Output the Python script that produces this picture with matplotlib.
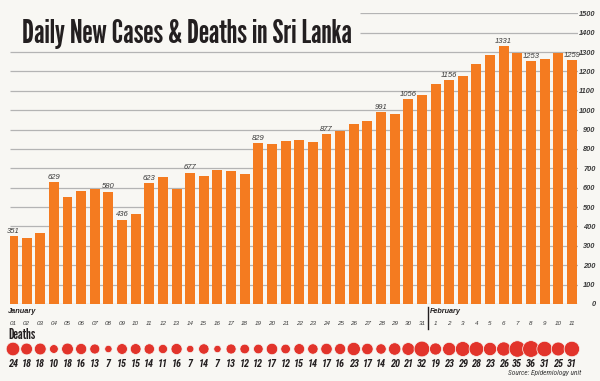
import matplotlib
matplotlib.use('Agg')
import matplotlib.pyplot as plt

plt.rcParams['font.family'] = ['Liberation Sans', 'DejaVu Sans']

# 数据
jan_days = ['%02d' % d for d in range(1, 32)]
feb_days = [str(d) for d in range(1, 12)]
day_labels = jan_days + feb_days

cases = [351, 339, 366, 629, 552, 583, 592, 580, 436, 463,
         623, 654, 595, 677, 662, 690, 688, 672, 829, 826,
         839, 845, 837, 877, 893, 927, 943, 991, 979, 1056,
         1078,
         1133, 1156, 1178, 1240, 1285, 1331, 1297, 1253, 1262, 1297, 1259]

deaths = [24, 18, 18, 10, 18, 16, 13, 7, 15, 15,
          14, 11, 16, 7, 14, 7, 13, 12, 12, 17,
          12, 15, 14, 17, 16, 23, 17, 14, 20, 21,
          32,
          19, 23, 29, 28, 23, 26, 35, 36, 31, 25, 31]

# 标出数值的柱子
labelled_days = ['01', '04', '08', '09', '11', '14', '19', '24', '28', '30',
                 'F2', 'F6', 'F8', 'F11']

bg = '#f8f7f3'
orange = '#f47b20'
red = '#e2342b'
dark = '#231f20'
grey_txt = '#3a3a3a'
gothic = ['League Gothic', 'Oswald', 'DejaVu Sans']
cond = ['Roboto Condensed', 'DejaVu Sans']

W, H = 600, 381
fig = plt.figure(figsize=(6, 3.81), dpi=100, facecolor=bg)
renderer = fig.canvas.get_renderer()


def fit(txt, width_px):
    '''按目标像素宽度调整字号'''
    w = txt.get_window_extent(renderer).width
    txt.set_fontsize(txt.get_fontsize() * width_px / w)
    return txt.get_fontsize()


def fit_size(s, width_px, **kw):
    t = fig.text(0, 0, s, fontsize=10, **kw)
    size = fit(t, width_px)
    t.remove()
    return size


x = list(range(len(cases)))
xlim = (-0.22, 41.45)
left, right = 10 / W, 578 / W

# 主图：柱状图
ax = fig.add_axes([left, 1 - 304 / H, right - left, (304 - 13.3) / H])
ax.set_facecolor('none')
ax.set_xlim(*xlim)
ax.set_ylim(0, 1500)
ax.bar(x, cases, width=0.73, color=orange, zorder=3)

for s in ax.spines.values():
    s.set_visible(False)
ax.set_xticks([])
ax.yaxis.tick_right()
ax.set_yticks(range(0, 1501, 100))
tick_size = fit_size('1500', 16.5, style='italic', fontweight='bold')
ax.tick_params(axis='y', length=0, pad=12.5, labelsize=tick_size, labelcolor=grey_txt)
for t in ax.get_yticklabels():
    t.set_horizontalalignment('right')
    t.set_fontstyle('italic')
    t.set_fontweight('bold')

# 柱子上方的数值
val_size = fit_size('1331', 17, style='italic')
keys = jan_days + ['F' + d for d in feb_days]
for i, k in enumerate(keys):
    if k in labelled_days:
        ax.annotate(str(cases[i]), (i, cases[i]), xytext=(0, 1), textcoords='offset points',
                    ha='center', va='bottom', fontsize=val_size, style='italic', color=grey_txt)

# 标题
title = fig.text(22 / W, 1 - 42.7 / H, 'Daily New Cases & Deaths in Sri Lanka',
                 fontsize=24, family=gothic, color=dark, va='baseline', ha='left')
fit(title, 331)

# 网格线 (1400/1500 从标题右侧开始)
fig.canvas.draw()
bb = title.get_window_extent(renderer)
title_end = ax.transData.inverted().transform((bb.x1 + 8, 0))[0]
for v in range(0, 1501, 100):
    x0 = title_end if v >= 1400 else xlim[0]
    ax.hlines(v, x0, xlim[1], color='#b4b4b4', lw=0.9, zorder=1)

# 下方区域：日期与死亡人数
ax2 = fig.add_axes([left, 0, right - left, 90 / H])
ax2.set_xlim(*xlim)
ax2.set_ylim(381, 291)
ax2.axis('off')

day_size = fit_size('01', 7, style='italic')
num_size = fit_size('24', 10, style='italic', fontweight='bold', family=cond)
for i, d in enumerate(day_labels):
    ax2.text(i, 323.3, d, ha='center', va='center', fontsize=day_size, style='italic', color=grey_txt)
    ax2.text(i, 364, str(deaths[i]), ha='center', va='center', fontsize=num_size,
             style='italic', fontweight='bold', color=dark, family=cond)

ax2.scatter(x, [349] * len(x), s=[d * 4.0 for d in deaths], color=red,
            edgecolors=bg, linewidths=0.5, zorder=3, clip_on=False)

jan = fig.text(8 / W, 1 - 311.7 / H, 'January', fontsize=8, style='italic', fontweight='bold',
               color=dark, va='center')
fit(jan, 28.7)
feb = fig.text(430 / W, 1 - 311.7 / H, 'February', fontsize=8, style='italic', fontweight='bold',
               color=dark, va='center')
fit(feb, 31)
fig.add_artist(plt.Line2D([427.7 / W, 427.7 / W], [1 - 307 / H, 1 - 329 / H], color=dark, lw=1))
dth = fig.text(8 / W, 1 - 335 / H, 'Deaths', fontsize=10, family=gothic, color=dark, va='center')
fit(dth, 27)
src = fig.text(581 / W, 1 - 373.3 / H, 'Source: Epidemiology unit', fontsize=7, style='italic',
               color=grey_txt, va='center', ha='right', family=cond)
fit(src, 74)

fig.savefig('out.png', dpi=100, facecolor=bg)
